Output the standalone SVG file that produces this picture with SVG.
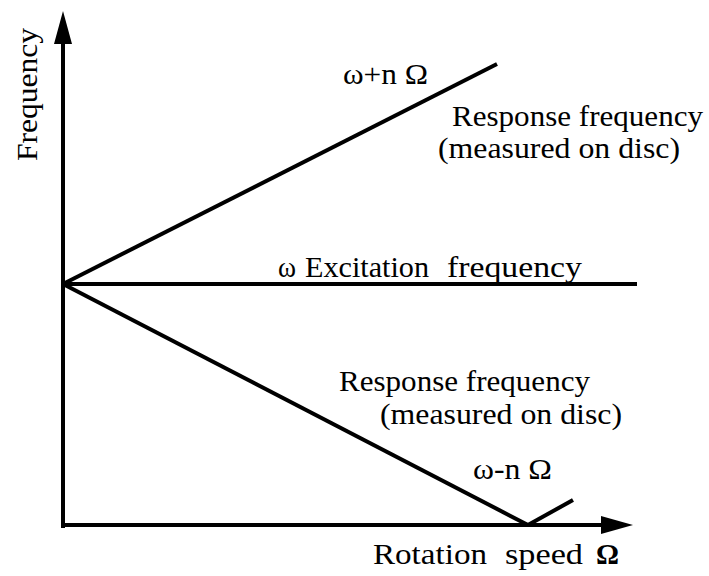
<svg xmlns="http://www.w3.org/2000/svg" width="709" height="576" viewBox="0 0 709 576">
<style>
.ln{stroke:#000;stroke-width:4;fill:none;stroke-linecap:butt}
text{font-family:"Liberation Serif","Times New Roman",serif;font-size:30px;fill:#000}
</style>
<rect width="709" height="576" fill="#fff"/>
<g id="connectors">
<path id="y-axis" class="ln" d="M63,528 L63,40"/>
<path d="M63,11 L54,44 L72,44 Z" fill="#000"/>
<path id="x-axis" class="ln" d="M61,525 L604,525"/>
<path d="M633,525 L601,516 L601,534 Z" fill="#000"/>
<path id="excitation" class="ln" d="M63,284 L637,284"/>
<path id="upper" class="ln" d="M63,284 L497,64"/>
<path id="lower" class="ln" d="M63,284 L528,525"/>
<path id="reflect" class="ln" d="M528,525 L573,500"/>
</g>
<g id="label-frequency">
<text transform="translate(37,161) rotate(-90)" textLength="133" lengthAdjust="spacingAndGlyphs">Frequency</text>
</g>
<g id="label-upper">
<text x="343" y="84" textLength="85" lengthAdjust="spacingAndGlyphs">ω+n Ω</text>
<text x="452" y="126" textLength="251" lengthAdjust="spacingAndGlyphs">Response frequency</text>
<text x="438" y="158" textLength="242" lengthAdjust="spacingAndGlyphs">(measured on disc)</text>
</g>
<g id="label-excitation">
<text x="278" y="277" textLength="18" lengthAdjust="spacingAndGlyphs" font-family="'DejaVu Sans',sans-serif" font-size="24">ω</text>
<text x="305" y="277" textLength="124" lengthAdjust="spacingAndGlyphs">Excitation</text>
<text x="447" y="277" textLength="135" lengthAdjust="spacingAndGlyphs">frequency</text>
</g>
<g id="label-lower">
<text x="339" y="391" textLength="251" lengthAdjust="spacingAndGlyphs">Response frequency</text>
<text x="380" y="424" textLength="242" lengthAdjust="spacingAndGlyphs">(measured on disc)</text>
<text x="473" y="479" textLength="79" lengthAdjust="spacingAndGlyphs">ω-n Ω</text>
</g>
<g id="label-rotation">
<text x="373" y="564" textLength="114" lengthAdjust="spacingAndGlyphs">Rotation</text>
<text x="505" y="564" textLength="78" lengthAdjust="spacingAndGlyphs">speed</text>
<text x="596" y="564" font-weight="bold" textLength="23" lengthAdjust="spacingAndGlyphs">Ω</text>
</g>
</svg>
